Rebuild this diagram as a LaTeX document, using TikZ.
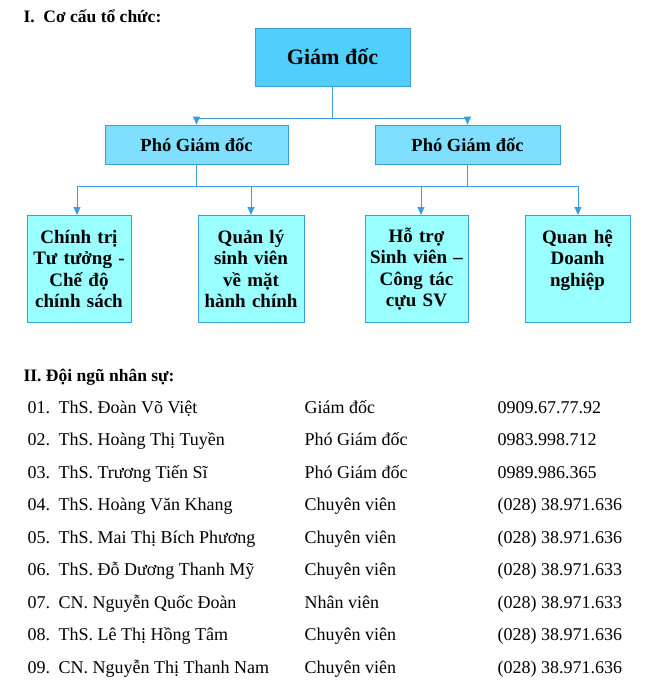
\documentclass[tikz,border=0pt]{standalone}
\usepackage{fontspec}
\setmainfont{Liberation Serif}
\usetikzlibrary{arrows.meta}
\definecolor{topfill}{HTML}{4FCFFA}
\definecolor{midfill}{HTML}{80DFFF}
\definecolor{lowfill}{HTML}{99FFFF}
\definecolor{edge}{HTML}{3A9FD8}
\begin{document}
\begin{tikzpicture}[x=1pt,y=-1pt,
  box/.style={draw=edge,line width=.8pt,align=center,font=\bfseries,inner sep=2pt},
  link/.style={draw=edge,line width=.9pt},
  arr/.style={link,-{Triangle[width=7pt,length=8pt]}},
  row/.style={anchor=base west,font=\fontsize{18}{20}\selectfont}]
\useasboundingbox (0,0) rectangle (648,680);
\node[anchor=base west,font=\bfseries\fontsize{17.5}{20}\selectfont] (h1) at (20,23) {I.\enspace Cơ cấu tổ chức:};
% top level
\node[box,fill=topfill,minimum width=155,minimum height=58,font=\bfseries\fontsize{22}{24}\selectfont] (gd) at (332.5,57) {Giám đốc};
\node[box,fill=midfill,minimum width=183,minimum height=39,font=\bfseries\fontsize{18.5}{20}\selectfont] (p1) at (196.5,144.5) {Phó Giám đốc};
\node[box,fill=midfill,minimum width=185,minimum height=39,font=\bfseries\fontsize{18.5}{20}\selectfont] (p2) at (467.5,144.5) {Phó Giám đốc};
% departments
\begin{scope}[every node/.style={box,fill=lowfill,minimum height=107,font=\bfseries\fontsize{19}{21.5}\selectfont,text width=100,anchor=north,inner sep=0pt}]
\node[minimum width=104] (d1) at (79,215) {Chính trị\\Tư tưởng -\\Chế độ\\chính sách};
\node[minimum width=106] (d2) at (251,215) {Quản lý\\sinh viên\\về mặt\\hành chính};
\node[minimum width=103] (d3) at (416.5,215) {Hỗ trợ\\Sinh viên –\\Công tác\\cựu SV};
\node[minimum width=105] (d4) at (577.5,215) {Quan hệ\\Doanh\\nghiệp\\\mbox{}};
\end{scope}
\coordinate (j1) at (332.5,118);
\coordinate (j2) at (77,186);
\coordinate (j3) at (578,186);
\draw[link] (gd.south) -- (j1);
\draw[arr] (j1) -| (p1.north);
\draw[arr] (j1) -| (p2.north);
\draw[link] (p1.south) -- (p1.south |- j2);
\draw[link] (p2.south) -- (p2.south |- j2);
\draw[link] (j2) -- (j3);
\draw[arr] (j2) -- (j2 |- d1.north);
\draw[arr] (d2.north |- j2) -- (d2.north);
\draw[arr] (421,186) -- (421,215);
\draw[arr] (j3) -- (j3 |- d4.north);
% staff list
\node[anchor=base west,font=\bfseries\fontsize{17.5}{20}\selectfont] (h2) at (20,381) {II. Đội ngũ nhân sự:};
\foreach \n/\name/\role/\tel [count=\i] in {
 01./ThS. Đoàn Võ Việt/Giám đốc/0909.67.77.92,
 02./ThS. Hoàng Thị Tuyền/Phó Giám đốc/0983.998.712,
 03./ThS. Trương Tiến Sĩ/Phó Giám đốc/0989.986.365,
 04./ThS. Hoàng Văn Khang/Chuyên viên/(028) 38.971.636,
 05./ThS. Mai Thị Bích Phương/Chuyên viên/(028) 38.971.636,
 06./ThS. Đỗ Dương Thanh Mỹ/Chuyên viên/(028) 38.971.633,
 07./CN. Nguyễn Quốc Đoàn/Nhân viên/(028) 38.971.633,
 08./ThS. Lê Thị Hồng Tâm/Chuyên viên/(028) 38.971.636,
 09./CN. Nguyễn Thị Thanh Nam/Chuyên viên/(028) 38.971.636}{
  \pgfmathsetmacro\yy{413+(\i-1)*32.5}
  \node[row] (n\i) at (24,\yy) {\n};
  \node[row] (m\i) at (55,\yy) {\name};
  \node[row] (r\i) at (301,\yy) {\role};
  \node[row] (t\i) at (494,\yy) {\tel};
}
\end{tikzpicture}
\end{document}
